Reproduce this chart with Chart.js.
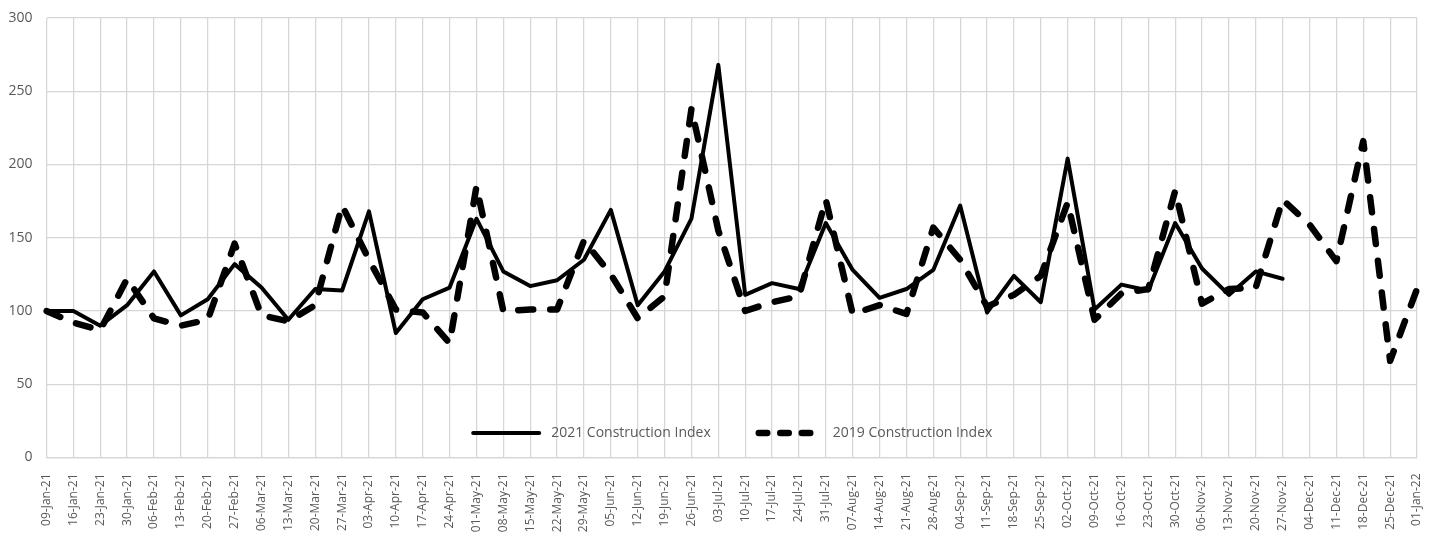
<!DOCTYPE html>
<html>
<head>
<meta charset="utf-8">
<script src="https://cdn.jsdelivr.net/npm/chart.js@4.4.1/dist/chart.umd.min.js"></script>
<style>
  html, body { margin: 0; padding: 0; background: #ffffff; }
  #wrap { width: 1431px; height: 534px; }
</style>
</head>
<body>
<div id="wrap"><canvas id="chart" width="1431" height="534"></canvas></div>
<script>
// Week-ending dates
const weekLabels = [
  '09-Jan-21','16-Jan-21','23-Jan-21','30-Jan-21','06-Feb-21','13-Feb-21','20-Feb-21','27-Feb-21',
  '06-Mar-21','13-Mar-21','20-Mar-21','27-Mar-21','03-Apr-21','10-Apr-21','17-Apr-21','24-Apr-21',
  '01-May-21','08-May-21','15-May-21','22-May-21','29-May-21','05-Jun-21','12-Jun-21','19-Jun-21',
  '26-Jun-21','03-Jul-21','10-Jul-21','17-Jul-21','24-Jul-21','31-Jul-21','07-Aug-21','14-Aug-21',
  '21-Aug-21','28-Aug-21','04-Sep-21','11-Sep-21','18-Sep-21','25-Sep-21','02-Oct-21','09-Oct-21',
  '16-Oct-21','23-Oct-21','30-Oct-21','06-Nov-21','13-Nov-21','20-Nov-21','27-Nov-21','04-Dec-21',
  '11-Dec-21','18-Dec-21','25-Dec-21','01-Jan-22'
];

// 2021 weekly index (no data after 27-Nov)
const index2021 = [
  100, 100, 90, 104, 127, 97, 108, 132, 116, 94, 115, 114, 168, 85, 108, 116,
  163, 127, 117, 121, 135, 169, 104, 127, 163, 268, 111, 119, 115, 160, 128, 109,
  115, 128, 172, 99, 124, 106, 204, 101, 118, 114, 160, 129, 111, 127, 122,
  null, null, null, null, null
];

// 2019 weekly index, aligned to the same weeks
const index2019 = [
  100, 92, 87, 122, 95, 90, 94, 146, 97, 93, 104, 172, 135, 101, 99, 78,
  185, 100, 101, 101, 148, 125, 95, 110, 238, 155, 100, 106, 110, 176, 98, 104,
  98, 157, 135, 103, 111, 124, 174, 94, 112, 115, 182, 105, 115, 116, 176, 159,
  134, 216, 66, 115
];

const seriesNames = ['2021 Construction Index', '2019 Construction Index'];

const yMin = 0, yMax = 300, yStep = 50;

const textColor = '#595959';
const gridColor = '#d6d6d6';
const fontFamily = "'Open Sans', 'Noto Sans', sans-serif";

const chartDash = [15, 17];
const legendDash = [8.5, 13];

// Legend drawn inside the plot area, centred near its bottom edge
const insideLegend = {
  id: 'insideLegend',
  afterDraw(chart) {
    const { ctx, chartArea } = chart;
    const sampleW = 70;
    const y = chartArea.bottom - 24.5;
    ctx.save();
    ctx.font = `14px ${fontFamily}`;
    const w1 = ctx.measureText(seriesNames[0]).width;
    const w2 = ctx.measureText(seriesNames[1]).width;
    const total = sampleW + 10 + w1 + 45 + sampleW + 7 + w2;
    let x = (chartArea.left + chartArea.right) / 2 - total / 2;

    ctx.strokeStyle = '#000000';
    ctx.lineCap = 'round';
    ctx.lineWidth = 4;
    ctx.setLineDash([]);
    ctx.beginPath();
    ctx.moveTo(x + 2, y);
    ctx.lineTo(x + sampleW - 2, y);
    ctx.stroke();
    x += sampleW + 10;
    ctx.fillStyle = textColor;
    ctx.textBaseline = 'middle';
    ctx.textAlign = 'left';
    ctx.fillText(seriesNames[0], x, y);
    x += w1 + 45;

    ctx.lineWidth = 6.5;
    ctx.setLineDash(legendDash);
    ctx.beginPath();
    ctx.moveTo(x + 3, y);
    ctx.lineTo(x + sampleW - 3, y);
    ctx.stroke();
    ctx.setLineDash([]);
    x += sampleW + 7;
    ctx.fillText(seriesNames[1], x, y);
    ctx.restore();
  }
};

new Chart(document.getElementById('chart'), {
  type: 'line',
  data: {
    labels: weekLabels,
    datasets: [
      {
        label: seriesNames[0],
        data: index2021,
        borderColor: '#000000',
        borderWidth: 4,
        borderJoinStyle: 'round',
        borderCapStyle: 'round',
        pointRadius: 0,
        tension: 0,
        fill: false,
        spanGaps: false
      },
      {
        label: seriesNames[1],
        data: index2019,
        borderColor: '#000000',
        borderWidth: 6.5,
        borderDash: chartDash,
        borderJoinStyle: 'round',
        borderCapStyle: 'round',
        pointRadius: 0,
        tension: 0,
        fill: false
      }
    ]
  },
  options: {
    responsive: false,
    animation: false,
    devicePixelRatio: 1,
    layout: { padding: { top: 18, right: 14, left: 0, bottom: 0 } },
    plugins: {
      legend: { display: false },
      tooltip: { enabled: false }
    },
    scales: {
      x: {
        offset: false,
        grid: { color: gridColor, lineWidth: 1.25, drawTicks: false },
        border: { color: gridColor, width: 1.25 },
        ticks: {
          autoSkip: false,
          maxRotation: 90,
          minRotation: 90,
          padding: 16,
          color: textColor,
          font: { family: fontFamily, size: 12 }
        },
        afterFit(scale) {
          scale.height = 76.5;
          scale.paddingLeft = 0;
          scale.paddingRight = 0;
        }
      },
      y: {
        min: yMin,
        max: yMax,
        grid: { color: gridColor, lineWidth: 1.25, drawTicks: false },
        border: { display: false },
        ticks: {
          stepSize: yStep,
          padding: 14,
          color: textColor,
          font: { family: fontFamily, size: 14 }
        },
        afterFit(scale) {
          scale.width = 46.5;
          scale.paddingTop = 0;
          scale.paddingBottom = 0;
        }
      }
    }
  },
  plugins: [insideLegend]
});
</script>
</body>
</html>
